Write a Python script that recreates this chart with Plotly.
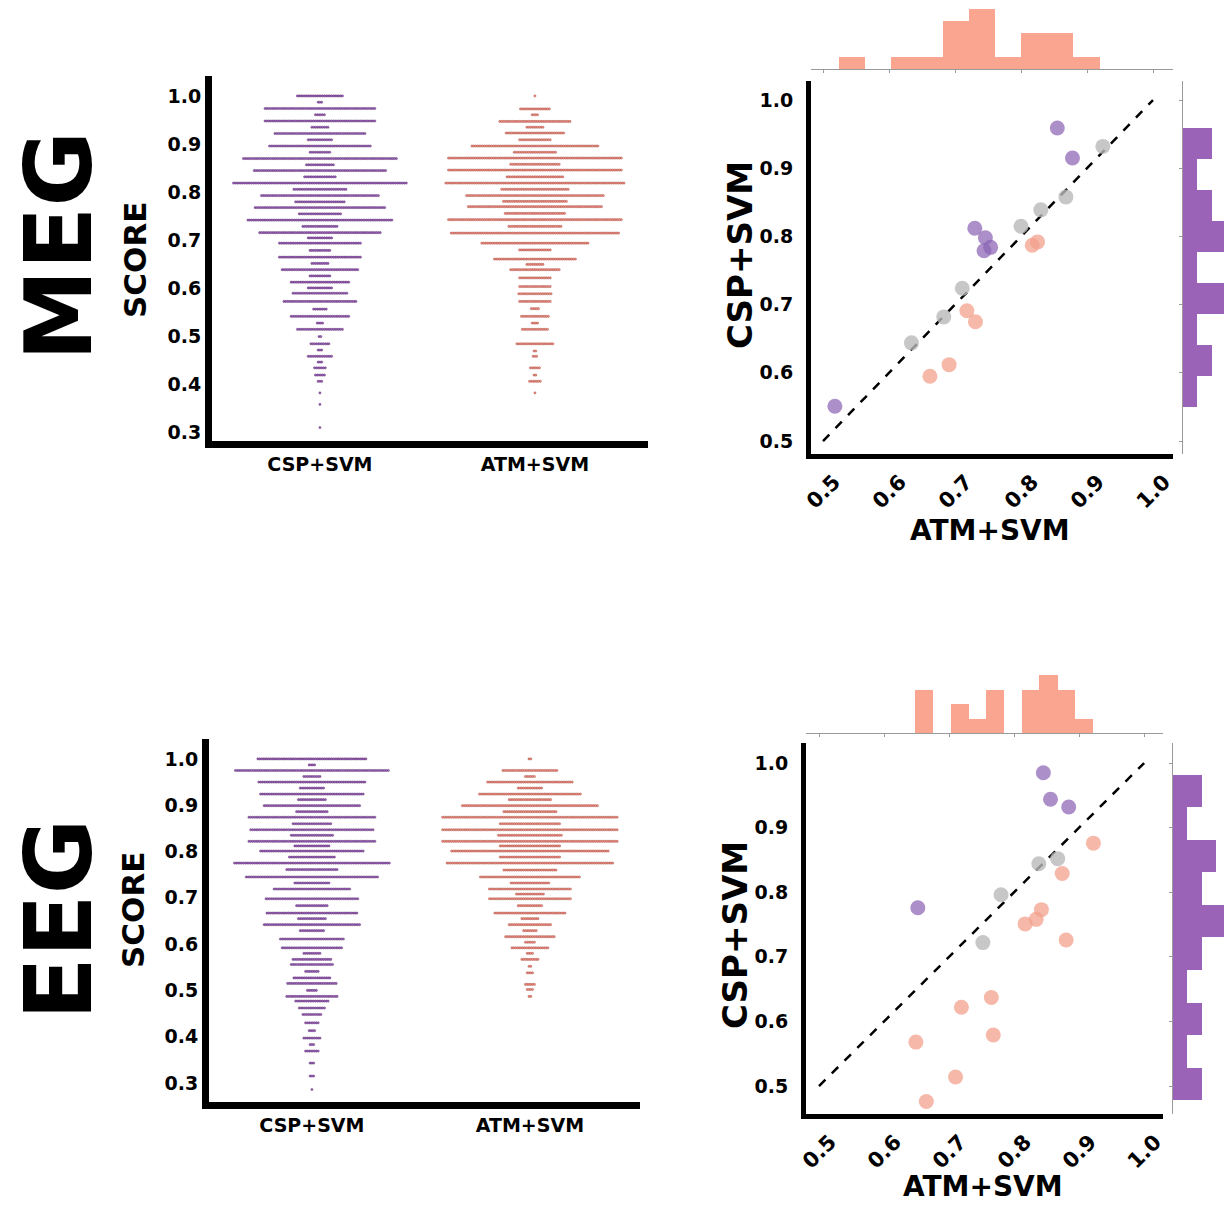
import plotly.graph_objects as go

# ---------------- DATA ----------------
categories = ["CSP+SVM", "ATM+SVM"]

# Swarm plots: score levels (rows) and number of points on each row
meg_csp_levels = [1.000, 0.987, 0.974, 0.961, 0.948, 0.935, 0.922, 0.909, 0.896, 0.883, 0.870, 0.857,
                  0.845, 0.832, 0.819, 0.806, 0.793, 0.780, 0.768, 0.755, 0.742, 0.729, 0.716, 0.705,
                  0.694, 0.679, 0.665, 0.652, 0.639, 0.626, 0.613, 0.601, 0.590, 0.573, 0.557, 0.542,
                  0.528, 0.515, 0.500, 0.485, 0.472, 0.459, 0.447, 0.435, 0.420, 0.407, 0.383, 0.359, 0.311]
meg_csp_counts = [26, 3, 62, 6, 62, 10, 51, 14, 57, 12, 86, 16,
                  74, 18, 97, 30, 66, 28, 73, 24, 81, 20, 68, 14,
                  46, 12, 46, 10, 43, 12, 33, 14, 31, 41, 8, 33,
                  4, 26, 2, 11, 3, 14, 3, 7, 6, 3, 1, 1, 1]

meg_atm_levels = [1.000, 0.973, 0.961, 0.947, 0.935, 0.923, 0.909, 0.896, 0.883, 0.871, 0.858, 0.846,
                  0.832, 0.819, 0.806, 0.793, 0.781, 0.770, 0.756, 0.743, 0.729, 0.715, 0.694, 0.680,
                  0.661, 0.650, 0.639, 0.622, 0.604, 0.589, 0.573, 0.558, 0.542, 0.528, 0.515, 0.485,
                  0.470, 0.459, 0.435, 0.420, 0.407, 0.383]
meg_atm_counts = [1, 17, 4, 40, 10, 33, 18, 71, 24, 97, 28, 97,
                  32, 100, 38, 77, 36, 75, 34, 97, 30, 94, 60, 18,
                  46, 10, 28, 18, 18, 19, 18, 5, 16, 4, 15, 21,
                  2, 3, 6, 2, 7, 1]

eeg_csp_levels = [1.000, 0.987, 0.975, 0.962, 0.950, 0.937, 0.924, 0.912, 0.899, 0.886, 0.874, 0.860,
                  0.847, 0.835, 0.822, 0.812, 0.801, 0.788, 0.775, 0.761, 0.745, 0.732, 0.719, 0.698,
                  0.683, 0.667, 0.655, 0.642, 0.629, 0.611, 0.592, 0.580, 0.567, 0.556, 0.541, 0.527,
                  0.515, 0.500, 0.487, 0.477, 0.462, 0.448, 0.430, 0.413, 0.397, 0.383, 0.369, 0.343,
                  0.315, 0.286]
eeg_csp_counts = [61, 4, 86, 10, 60, 14, 58, 16, 54, 18, 71, 22,
                  69, 24, 71, 20, 58, 26, 87, 29, 74, 20, 43, 52,
                  18, 51, 16, 54, 14, 36, 34, 10, 22, 24, 8, 21,
                  28, 6, 29, 19, 15, 11, 8, 4, 10, 3, 8, 3,
                  3, 1]

eeg_atm_levels = [1.000, 0.975, 0.962, 0.950, 0.937, 0.924, 0.912, 0.899, 0.886, 0.874, 0.860, 0.847,
                  0.835, 0.822, 0.812, 0.801, 0.788, 0.775, 0.760, 0.745, 0.732, 0.719, 0.708, 0.698,
                  0.683, 0.667, 0.655, 0.642, 0.629, 0.616, 0.604, 0.592, 0.580, 0.567, 0.552, 0.538,
                  0.513, 0.502, 0.487]
eeg_atm_counts = [2, 31, 6, 48, 14, 57, 24, 76, 30, 98, 34, 98,
                  36, 98, 34, 88, 34, 93, 30, 56, 22, 46, 16, 46,
                  14, 40, 10, 24, 8, 28, 6, 21, 4, 10, 2, 4,
                  6, 4, 2]

# Joint plots: ATM+SVM (x) vs CSP+SVM (y), split by colour group
meg_purple_atm = [0.518, 0.855, 0.878, 0.730, 0.746, 0.754, 0.744]
meg_purple_csp = [0.551, 0.959, 0.915, 0.812, 0.798, 0.784, 0.779]
meg_gray_atm = [0.634, 0.683, 0.711, 0.800, 0.830, 0.868, 0.924]
meg_gray_csp = [0.644, 0.682, 0.724, 0.815, 0.839, 0.858, 0.932]
meg_salmon_atm = [0.662, 0.691, 0.718, 0.731, 0.817, 0.825]
meg_salmon_csp = [0.595, 0.612, 0.691, 0.675, 0.787, 0.792]

eeg_purple_atm = [0.845, 0.856, 0.884, 0.652]
eeg_purple_csp = [0.985, 0.944, 0.932, 0.776]
eeg_gray_atm = [0.780, 0.752, 0.838, 0.867]
eeg_gray_csp = [0.796, 0.722, 0.844, 0.852]
eeg_salmon_atm = [0.922, 0.874, 0.842, 0.834, 0.817, 0.880, 0.765, 0.719, 0.768, 0.649, 0.710, 0.665]
eeg_salmon_csp = [0.876, 0.829, 0.773, 0.758, 0.751, 0.726, 0.637, 0.622, 0.579, 0.568, 0.514, 0.476]

# Marginal histograms (bin edges and counts)
meg_atm_hist_edges = [0.524, 0.5635, 0.603, 0.6425, 0.682, 0.7215, 0.761, 0.8005, 0.840, 0.8795, 0.919]
meg_atm_hist_counts = [1, 0, 1, 1, 4, 5, 1, 3, 3, 1]
meg_csp_hist_edges = [0.5495, 0.595, 0.6405, 0.686, 0.7315, 0.777, 0.8225, 0.868, 0.9135, 0.959]
meg_csp_hist_counts = [1, 2, 1, 4, 1, 6, 2, 1, 2]
eeg_atm_hist_edges = [0.648, 0.675, 0.703, 0.730, 0.757, 0.785, 0.812, 0.839, 0.867, 0.894, 0.921]
eeg_atm_hist_counts = [3, 0, 2, 1, 3, 0, 3, 4, 3, 1]
eeg_csp_hist_edges = [0.478, 0.528, 0.579, 0.629, 0.680, 0.730, 0.780, 0.831, 0.881, 0.932, 0.982]
eeg_csp_hist_counts = [2, 1, 2, 1, 2, 4, 2, 3, 1, 2]

diag = [0.5, 1.0]
score_ticks = [0.3, 0.4, 0.5, 0.6, 0.7, 0.8, 0.9, 1.0]
joint_ticks = [0.5, 0.6, 0.7, 0.8, 0.9, 1.0]

# ---------------- STYLE / LAYOUT ----------------
W, H = 1224, 1205
FONT = "DejaVu Sans"
PURPLE_SW = "#a066c0"
PURPLE_SW_EDGE = "#4a1d5c"
SALMON_SW = "#f39084"
SALMON_SW_EDGE = "#9a3e35"
DOT_PURPLE = "rgba(140,100,180,0.72)"
DOT_GRAY = "rgba(185,185,185,0.8)"
DOT_SALMON = "rgba(242,160,140,0.75)"
HIST_SALMON = "#f9a58f"
HIST_PURPLE = "#9b63b8"


def dx(a, b):
    return [a / W, b / W]


def dy(top, bottom):
    return [1 - bottom / H, 1 - top / H]


fig = go.Figure()


def add_swarm(levels, counts, center, pitch, color, edge, xa, ya):
    xs, ys = [], []
    for v, n in zip(levels, counts):
        for i in range(n):
            xs.append(center + (i - (n - 1) / 2) * pitch)
            ys.append(v)
    fig.add_trace(go.Scatter(x=xs, y=ys, mode="markers", xaxis=xa, yaxis=ya,
                             marker=dict(size=2.2, color=color, line=dict(width=0.4, color=edge)),
                             showlegend=False, hoverinfo="skip"))


sw_cfg = {
    "meg": dict(xd=(212, 648), yd=(76, 441), xr=[-0.502, 1.526], yr=[0.283, 1.0415]),
    "eeg": dict(xd=(209, 640), yd=(739, 1102), xr=[-0.472, 1.505], yr=[0.259, 1.043]),
}
PITCH_PX = 1.8
for key, xa, ya, csp, atm in [("meg", "x", "y", (meg_csp_levels, meg_csp_counts), (meg_atm_levels, meg_atm_counts)),
                              ("eeg", "x5", "y5", (eeg_csp_levels, eeg_csp_counts), (eeg_atm_levels, eeg_atm_counts))]:
    c = sw_cfg[key]
    pitch = PITCH_PX * (c["xr"][1] - c["xr"][0]) / (c["xd"][1] - c["xd"][0])
    add_swarm(csp[0], csp[1], 0, pitch, PURPLE_SW, PURPLE_SW_EDGE, xa, ya)
    add_swarm(atm[0], atm[1], 1, pitch, SALMON_SW, SALMON_SW_EDGE, xa, ya)


def add_joint(xa, ya, groups):
    fig.add_trace(go.Scatter(x=diag, y=diag, mode="lines", xaxis=xa, yaxis=ya,
                             line=dict(color="black", width=2.5, dash="dash"),
                             showlegend=False, hoverinfo="skip"))
    for xs, ys, col in groups:
        fig.add_trace(go.Scatter(x=xs, y=ys, mode="markers", xaxis=xa, yaxis=ya,
                                 marker=dict(size=15, color=col, line=dict(width=0)),
                                 showlegend=False, hoverinfo="skip"))


add_joint("x2", "y2", [(meg_gray_atm, meg_gray_csp, DOT_GRAY),
                       (meg_salmon_atm, meg_salmon_csp, DOT_SALMON),
                       (meg_purple_atm, meg_purple_csp, DOT_PURPLE)])
add_joint("x6", "y6", [(eeg_gray_atm, eeg_gray_csp, DOT_GRAY),
                       (eeg_salmon_atm, eeg_salmon_csp, DOT_SALMON),
                       (eeg_purple_atm, eeg_purple_csp, DOT_PURPLE)])


def add_hist(edges, counts, xa, ya, color, horizontal):
    centers = [(edges[i] + edges[i + 1]) / 2 for i in range(len(counts))]
    widths = [edges[i + 1] - edges[i] for i in range(len(counts))]
    if horizontal:
        fig.add_trace(go.Bar(y=centers, x=counts, width=widths, orientation="h", xaxis=xa, yaxis=ya,
                             marker=dict(color=color, line=dict(width=0)), showlegend=False,
                             hoverinfo="skip"))
    else:
        fig.add_trace(go.Bar(x=centers, y=counts, width=widths, xaxis=xa, yaxis=ya,
                             marker=dict(color=color, line=dict(width=0)), showlegend=False,
                             hoverinfo="skip"))


add_hist(meg_atm_hist_edges, meg_atm_hist_counts, "x3", "y3", HIST_SALMON, False)
add_hist(meg_csp_hist_edges, meg_csp_hist_counts, "x4", "y4", HIST_PURPLE, True)
add_hist(eeg_atm_hist_edges, eeg_atm_hist_counts, "x7", "y7", HIST_SALMON, False)
add_hist(eeg_csp_hist_edges, eeg_csp_hist_counts, "x8", "y8", HIST_PURPLE, True)


def bold(s):
    return dict(family=FONT, size=s, color="black", weight="bold")


layout = dict(width=W, height=H, margin=dict(l=0, r=0, t=0, b=0, autoexpand=False),
              paper_bgcolor="white", plot_bgcolor="rgba(0,0,0,0)", bargap=0, showlegend=False)

for i, key in [("", "meg"), ("5", "eeg")]:
    c = sw_cfg[key]
    layout["xaxis" + i] = dict(domain=dx(*c["xd"]), range=c["xr"], anchor="y" + i, automargin=False,
                               showline=True, linewidth=7, linecolor="black", ticks="",
                               tickvals=[0, 1], ticktext=categories, tickfont=bold(19),
                               showgrid=False, zeroline=False)
    layout["yaxis" + i] = dict(domain=dy(*c["yd"]), range=c["yr"], anchor="x" + i, automargin=False,
                               showline=True, linewidth=7, linecolor="black", ticks="",
                               tickvals=score_ticks, tickformat=".1f", tickfont=bold(19),
                               showgrid=False, zeroline=False)

jt_cfg = {
    "2": dict(xd=(811, 1173), yd=(81, 454), xr=[0.4818, 1.0303], yr=[0.481, 1.0279],
              topd=(5, 69), topr=[0, 5.33], rightd=(1183, 1224), rightr=[0, 2.83], label_y=492),
    "6": dict(xd=(806, 1163), yd=(743, 1114), xr=[0.48, 1.029], yr=[0.4567, 1.031],
              topd=(670, 733), topr=[0, 4.37], rightd=(1173, 1224), rightr=[0, 3.57], label_y=1152),
}
annotations = []
for i, c in jt_cfg.items():
    top = str(int(i) + 1)
    right = str(int(i) + 2)
    layout["xaxis" + i] = dict(domain=dx(*c["xd"]), range=c["xr"], anchor="y" + i, automargin=False,
                               showline=True, linewidth=5, linecolor="black", ticks="",
                               tickvals=joint_ticks, showticklabels=False,
                               showgrid=False, zeroline=False)
    layout["yaxis" + i] = dict(domain=dy(*c["yd"]), range=c["yr"], anchor="x" + i, automargin=False,
                               showline=True, linewidth=5, linecolor="black", ticks="",
                               tickvals=joint_ticks, tickformat=".1f", ticklabelstandoff=9,
                               tickfont=bold(19), showgrid=False, zeroline=False)
    layout["xaxis" + top] = dict(domain=dx(*c["xd"]), range=c["xr"], anchor="y" + top, automargin=False,
                                 showline=True, linewidth=1.2, linecolor="#9a9a9a", ticks="outside",
                                 ticklen=3, tickcolor="#9a9a9a", tickvals=joint_ticks,
                                 showticklabels=False, showgrid=False, zeroline=False)
    layout["yaxis" + top] = dict(domain=dy(*c["topd"]), range=c["topr"], anchor="x" + top,
                                 automargin=False, visible=False)
    layout["xaxis" + right] = dict(domain=dx(*c["rightd"]), range=c["rightr"], anchor="y" + right,
                                   automargin=False, visible=False)
    layout["yaxis" + right] = dict(domain=dy(*c["yd"]), range=c["yr"], anchor="x" + right,
                                   automargin=False,
                                   showline=True, linewidth=1.2, linecolor="#9a9a9a", ticks="outside",
                                   ticklen=3, tickcolor="#9a9a9a", tickvals=joint_ticks,
                                   showticklabels=False, showgrid=False, zeroline=False)
    # rotated x tick labels, centred on their ticks
    for t in joint_ticks:
        annotations.append(dict(text=f"{t:.1f}", x=t, xref="x" + i, y=1 - c["label_y"] / H,
                                yref="paper", showarrow=False, xanchor="center", yanchor="middle",
                                textangle=-45, font=dict(family=FONT, size=21, color="black",
                                                         weight="bold")))


def ann(text, x, y, size, angle=0):
    return dict(text=text, x=x / W, y=1 - y / H, xref="paper", yref="paper", showarrow=False,
                xanchor="center", yanchor="middle", textangle=angle, font=bold(size))


annotations += [
    ann("MEG", 60, 246, 92, -90),
    ann("EEG", 60, 920, 92, -90),
    ann("SCORE", 135, 260, 31, -90),
    ann("SCORE", 133, 910, 31, -90),
    ann("CSP+SVM", 740, 255, 34, -90),
    ann("CSP+SVM", 735, 935, 34, -90),
    ann("ATM+SVM", 990, 530, 28),
    ann("ATM+SVM", 983, 1186, 28),
]
layout["annotations"] = annotations

fig.update_layout(**layout)
fig.write_html("out.html", config={"displayModeBar": False},
               post_script="document.body.style.margin='0px';document.body.style.overflow='hidden';")
